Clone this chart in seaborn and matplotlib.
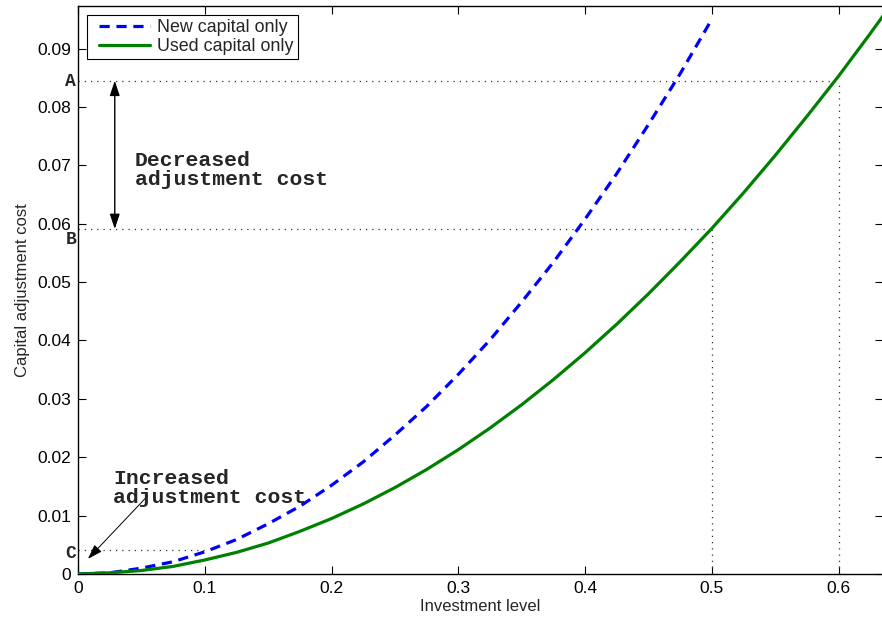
import numpy as np
import pandas as pd
import matplotlib
matplotlib.use("Agg")
import matplotlib.pyplot as plt
from matplotlib.lines import Line2D
from matplotlib.legend_handler import HandlerLine2D
import seaborn as sns

# ---- data ----
new_x = [0.0, 0.025, 0.05, 0.075, 0.1, 0.125, 0.15, 0.175, 0.2, 0.225, 0.25, 0.275,
         0.3, 0.325, 0.35, 0.375, 0.4, 0.425, 0.45, 0.475, 0.498]
new_y = [0.0, 0.0002, 0.0010, 0.0021, 0.0038, 0.0059, 0.0086, 0.0116, 0.0152, 0.0192,
         0.0238, 0.0287, 0.0342, 0.0401, 0.0466, 0.0534, 0.0608, 0.0686, 0.0770, 0.0857,
         0.0943]
used_x = [0.0, 0.025, 0.05, 0.075, 0.1, 0.125, 0.15, 0.175, 0.2, 0.225, 0.25, 0.275,
          0.3, 0.325, 0.35, 0.375, 0.4, 0.425, 0.45, 0.475, 0.5, 0.525, 0.55, 0.575,
          0.6, 0.625, 0.635]
used_y = [0.0, 0.0002, 0.0006, 0.0013, 0.0024, 0.0037, 0.0053, 0.0073, 0.0095, 0.0120,
          0.0148, 0.0179, 0.0213, 0.0250, 0.0290, 0.0333, 0.0379, 0.0428, 0.0480, 0.0535,
          0.0592, 0.0653, 0.0717, 0.0784, 0.0853, 0.0926, 0.0956]
x_ticks = [0, 0.1, 0.2, 0.3, 0.4, 0.5, 0.6]
x_tick_labels = ["0", "0.1", "0.2", "0.3", "0.4", "0.5", "0.6"]
y_ticks = [0, 0.01, 0.02, 0.03, 0.04, 0.05, 0.06, 0.07, 0.08, 0.09]
y_tick_labels = ["0", "0.01", "0.02", "0.03", "0.04", "0.05", "0.06", "0.07", "0.08", "0.09"]
level_A, level_B, level_C = 0.0845, 0.0591, 0.0041
x_A, x_B, x_C = 0.6, 0.5, 0.1

sns.set_style("ticks")
plt.rcParams['font.family'] = ['Liberation Sans', 'DejaVu Sans']

fig = plt.figure(figsize=(8.82, 6.23), dpi=100)
ax = fig.add_axes([78 / 882, 49 / 623, 805 / 882, 568 / 623])

df_new = pd.DataFrame({"x": new_x, "y": new_y})
df_used = pd.DataFrame({"x": used_x, "y": used_y})
sns.lineplot(data=df_new, x="x", y="y", ax=ax, color=(0, 0, 1), linewidth=2.3,
             label="New capital only", zorder=3)
ax.lines[-1].set_linestyle((0, (3.2, 2.1)))
sns.lineplot(data=df_used, x="x", y="y", ax=ax, color=(0, 0.5, 0), linewidth=2.3,
             label="Used capital only", zorder=3)

dot_kw = dict(color="#333333", linestyle=(0, (1, 4)), linewidth=0.9, zorder=2)
ax.plot([0, x_A], [level_A, level_A], **dot_kw)
ax.plot([x_A, x_A], [0, level_A], **dot_kw)
ax.plot([0, x_B], [level_B, level_B], **dot_kw)
ax.plot([x_B, x_B], [0, level_B], **dot_kw)
ax.plot([0, x_C], [level_C, level_C], **dot_kw)

ax.set_xlim(0, 0.635)
ax.set_ylim(0, 0.0973)
ax.set_xticks(x_ticks)
ax.set_xticklabels(x_tick_labels)
ax.set_yticks(y_ticks)
ax.set_yticklabels(y_tick_labels)
ax.tick_params(direction="in", top=True, right=True, length=6, width=0.8,
               labelsize=12.5, pad=5, colors="black")
for s in ax.spines.values():
    s.set_linewidth(1.0)
    s.set_color("black")
ax.set_xlabel("Investment level", fontsize=12, labelpad=2)
ax.set_ylabel("Capital adjustment cost", fontsize=12, labelpad=5)

mono = dict(family=["Liberation Mono", "DejaVu Sans Mono"], fontweight="bold")
ax.text(-0.0015, 0.0843, "A", ha="right", va="center", fontsize=13, clip_on=False, **mono)
ax.text(-0.0015, 0.0573, "B", ha="right", va="center", fontsize=13, clip_on=False, **mono)
ax.text(-0.0015, 0.0035, "C", ha="right", va="center", fontsize=13, clip_on=False, **mono)

ax.annotate("", xy=(0.029, level_A), xytext=(0.029, level_B),
            arrowprops=dict(arrowstyle="<|-|>,head_length=0.9,head_width=0.3",
                            color="black", lw=1.0, shrinkA=0, shrinkB=0))
ax.text(0.045, 0.0692, "Decreased\nadjustment cost", ha="left", va="center",
        fontsize=15.4, linespacing=1.0, **mono)

ax.annotate("", xy=(0.0079, 0.0026), xytext=(0.055, 0.0134),
            arrowprops=dict(arrowstyle="-|>,head_length=0.9,head_width=0.3",
                            color="black", lw=0.7, shrinkA=0, shrinkB=0))
ax.text(0.0276, 0.0147, "Increased\nadjustment cost", ha="left", va="center",
        fontsize=15.4, linespacing=1.0, **mono)

leg = ax.legend(loc="upper left", bbox_to_anchor=(0.011, 0.985), fontsize=12.9,
                frameon=True, fancybox=False, edgecolor="black", framealpha=1,
                borderpad=0.25, labelspacing=0.1, handlelength=3.3, handletextpad=0.35,
                borderaxespad=0, handler_map={Line2D: HandlerLine2D(xpad=0.4)})
leg.get_frame().set_linewidth(0.8)

fig.savefig("out.png", dpi=100)
